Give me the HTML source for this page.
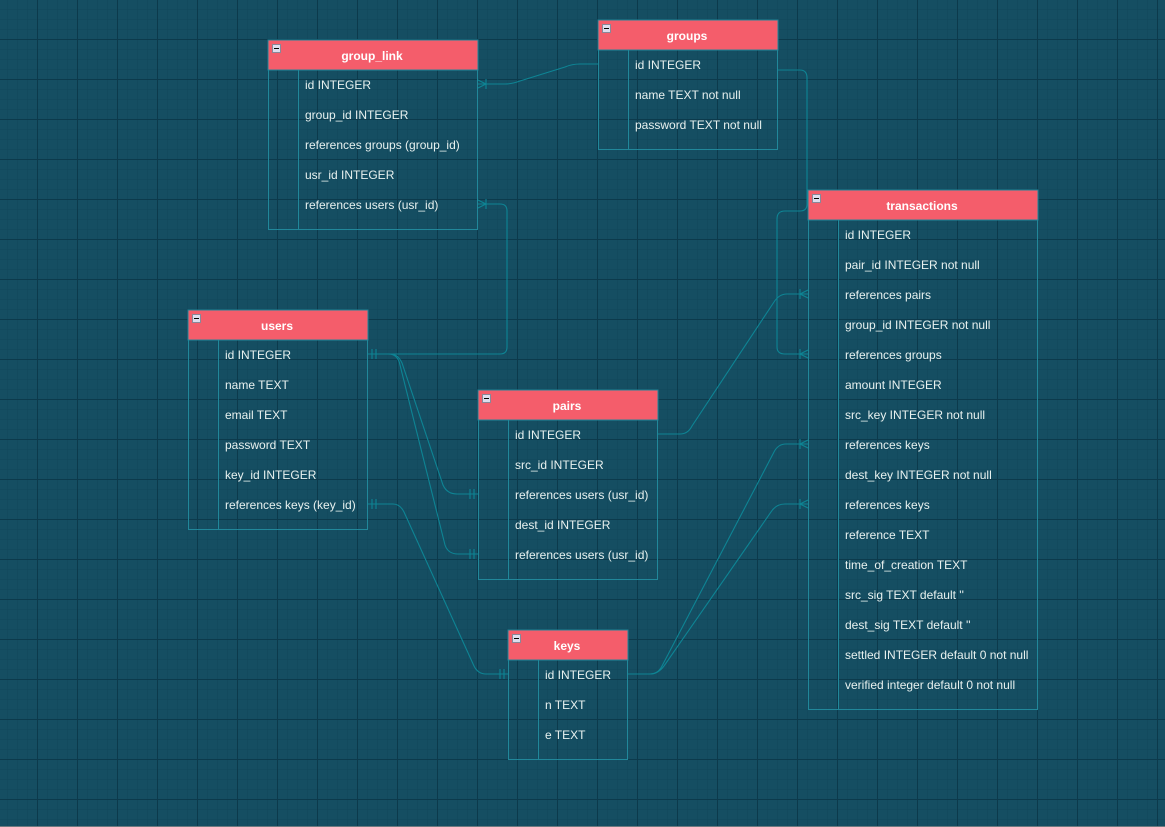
<!DOCTYPE html>
<html><head><meta charset="utf-8"><style>
html,body{margin:0;padding:0;width:1165px;height:827px;overflow:hidden;background:#134b5e;}
svg{display:block}
text{font-family:"Liberation Sans",sans-serif;}
</style></head><body>
<svg width="1165" height="827" xmlns="http://www.w3.org/2000/svg">
<defs>
<pattern id="minor" x="7" y="9" width="10" height="10" patternUnits="userSpaceOnUse"><path d="M0 0H10M0 0V10" stroke="#11475a" stroke-width="1" fill="none"/></pattern>
<pattern id="major" x="37" y="39" width="40" height="40" patternUnits="userSpaceOnUse"><path d="M0 0.5H40M0.5 0V40" stroke="#0c3a4c" stroke-width="1" fill="none"/></pattern>
</defs>
<rect width="1165" height="827" fill="#154e62"/>
<rect width="1165" height="827" fill="url(#minor)"/>
<rect width="1165" height="827" fill="url(#major)"/>
<rect x="0" y="826" width="1165" height="1" fill="#6f7a80"/>

<g fill="none" stroke="#0e8494" stroke-width="1.1">
<path d="M478,84 H505 Q512,84 520,81 L565,67 Q572,64 580,64 H598"/>
<path d="M778,70 H800 Q807,70 807,78 V204 Q807,211 800,211 H785 Q777,211 777,219 V347 Q777,354 785,354 H808"/>
<path d="M478,204 H500 Q507,204 507,211 V347 Q507,354 500,354 H368"/>
<path d="M368,354 H390 Q398,354 402,363 L443,485 Q447,494 457,494 H478"/>
<path d="M368,354 H388 Q398,354 400,365 L445,545 Q448,554 458,554 H478"/>
<path d="M368,504 H393 Q400,504 404,512 L474,666 Q478,674 486,674 H508"/>
<path d="M658,434 H680 Q688,434 692,426 L774,302 Q779,294 787,294 H808"/>
<path d="M628,674 H650 Q658,674 662,666 L774,452 Q778,444 786,444 H808"/>
<path d="M628,674 H650 Q658,674 664,666 L771,512 Q776,504 785,504 H808"/>
<path d="M478,80 L486,84 L478,88 M486,79 V89"/>
<path d="M478,200 L486,204 L478,208 M486,199 V209"/>
<path d="M808,290 L800,294 L808,298 M800,289 V299"/>
<path d="M808,350 L800,354 L808,358 M800,349 V359"/>
<path d="M808,440 L800,444 L808,448 M800,439 V449"/>
<path d="M808,500 L800,504 L808,508 M800,499 V509"/>
<path d="M372,349 V359 M376,349 V359"/>
<path d="M372,499 V509 M376,499 V509"/>
<path d="M470,489 V499 M474,489 V499"/>
<path d="M470,549 V559 M474,549 V559"/>
<path d="M500,669 V679 M504,669 V679"/>
</g>

<g font-size="12" fill="#e8f1ef">
<g>
<rect x="268.5" y="40.5" width="209" height="189" fill="none" stroke="#21879a"/>
<rect x="268" y="40" width="210" height="30" fill="#f45d6b" stroke="#21879a"/>
<line x1="298.5" y1="70" x2="298.5" y2="229" stroke="#21879a"/>
<rect x="272.5" y="44.5" width="8" height="8" fill="#dde" stroke="#889"/><line x1="274" y1="48.5" x2="279" y2="48.5" stroke="#000"/>
<text x="372" y="60" text-anchor="middle" font-weight="bold" fill="#fff">group_link</text>
<text x="305" y="89">id INTEGER</text><text x="305" y="119">group_id INTEGER</text><text x="305" y="149">references groups (group_id)</text><text x="305" y="179">usr_id INTEGER</text><text x="305" y="209">references users (usr_id)</text>
</g>
<g>
<rect x="598.5" y="20.5" width="179" height="129" fill="none" stroke="#21879a"/>
<rect x="598" y="20" width="180" height="30" fill="#f45d6b" stroke="#21879a"/>
<line x1="628.5" y1="50" x2="628.5" y2="149" stroke="#21879a"/>
<rect x="602.5" y="24.5" width="8" height="8" fill="#dde" stroke="#889"/><line x1="604" y1="28.5" x2="609" y2="28.5" stroke="#000"/>
<text x="687" y="40" text-anchor="middle" font-weight="bold" fill="#fff">groups</text>
<text x="635" y="69">id INTEGER</text><text x="635" y="99">name TEXT not null</text><text x="635" y="129">password TEXT not null</text>
</g>
<g>
<rect x="808.5" y="190.5" width="229" height="519" fill="none" stroke="#21879a"/>
<rect x="808" y="190" width="230" height="30" fill="#f45d6b" stroke="#21879a"/>
<line x1="838.5" y1="220" x2="838.5" y2="709" stroke="#21879a"/>
<rect x="812.5" y="194.5" width="8" height="8" fill="#dde" stroke="#889"/><line x1="814" y1="198.5" x2="819" y2="198.5" stroke="#000"/>
<text x="922" y="210" text-anchor="middle" font-weight="bold" fill="#fff">transactions</text>
<text x="845" y="239">id INTEGER</text><text x="845" y="269">pair_id INTEGER not null</text><text x="845" y="299">references pairs</text><text x="845" y="329">group_id INTEGER not null</text><text x="845" y="359">references groups</text><text x="845" y="389">amount INTEGER</text><text x="845" y="419">src_key INTEGER not null</text><text x="845" y="449">references keys</text><text x="845" y="479">dest_key INTEGER not null</text><text x="845" y="509">references keys</text><text x="845" y="539">reference TEXT</text><text x="845" y="569">time_of_creation TEXT</text><text x="845" y="599">src_sig TEXT default ''</text><text x="845" y="629">dest_sig TEXT default ''</text><text x="845" y="659">settled INTEGER default 0 not null</text><text x="845" y="689">verified integer default 0 not null</text>
</g>
<g>
<rect x="188.5" y="310.5" width="179" height="219" fill="none" stroke="#21879a"/>
<rect x="188" y="310" width="180" height="30" fill="#f45d6b" stroke="#21879a"/>
<line x1="218.5" y1="340" x2="218.5" y2="529" stroke="#21879a"/>
<rect x="192.5" y="314.5" width="8" height="8" fill="#dde" stroke="#889"/><line x1="194" y1="318.5" x2="199" y2="318.5" stroke="#000"/>
<text x="277" y="330" text-anchor="middle" font-weight="bold" fill="#fff">users</text>
<text x="225" y="359">id INTEGER</text><text x="225" y="389">name TEXT</text><text x="225" y="419">email TEXT</text><text x="225" y="449">password TEXT</text><text x="225" y="479">key_id INTEGER</text><text x="225" y="509">references keys (key_id)</text>
</g>
<g>
<rect x="478.5" y="390.5" width="179" height="189" fill="none" stroke="#21879a"/>
<rect x="478" y="390" width="180" height="30" fill="#f45d6b" stroke="#21879a"/>
<line x1="508.5" y1="420" x2="508.5" y2="579" stroke="#21879a"/>
<rect x="482.5" y="394.5" width="8" height="8" fill="#dde" stroke="#889"/><line x1="484" y1="398.5" x2="489" y2="398.5" stroke="#000"/>
<text x="567" y="410" text-anchor="middle" font-weight="bold" fill="#fff">pairs</text>
<text x="515" y="439">id INTEGER</text><text x="515" y="469">src_id INTEGER</text><text x="515" y="499">references users (usr_id)</text><text x="515" y="529">dest_id INTEGER</text><text x="515" y="559">references users (usr_id)</text>
</g>
<g>
<rect x="508.5" y="630.5" width="119" height="129" fill="none" stroke="#21879a"/>
<rect x="508" y="630" width="120" height="30" fill="#f45d6b" stroke="#21879a"/>
<line x1="538.5" y1="660" x2="538.5" y2="759" stroke="#21879a"/>
<rect x="512.5" y="634.5" width="8" height="8" fill="#dde" stroke="#889"/><line x1="514" y1="638.5" x2="519" y2="638.5" stroke="#000"/>
<text x="567" y="650" text-anchor="middle" font-weight="bold" fill="#fff">keys</text>
<text x="545" y="679">id INTEGER</text><text x="545" y="709">n TEXT</text><text x="545" y="739">e TEXT</text>
</g>
</g>
</svg>
</body></html>
